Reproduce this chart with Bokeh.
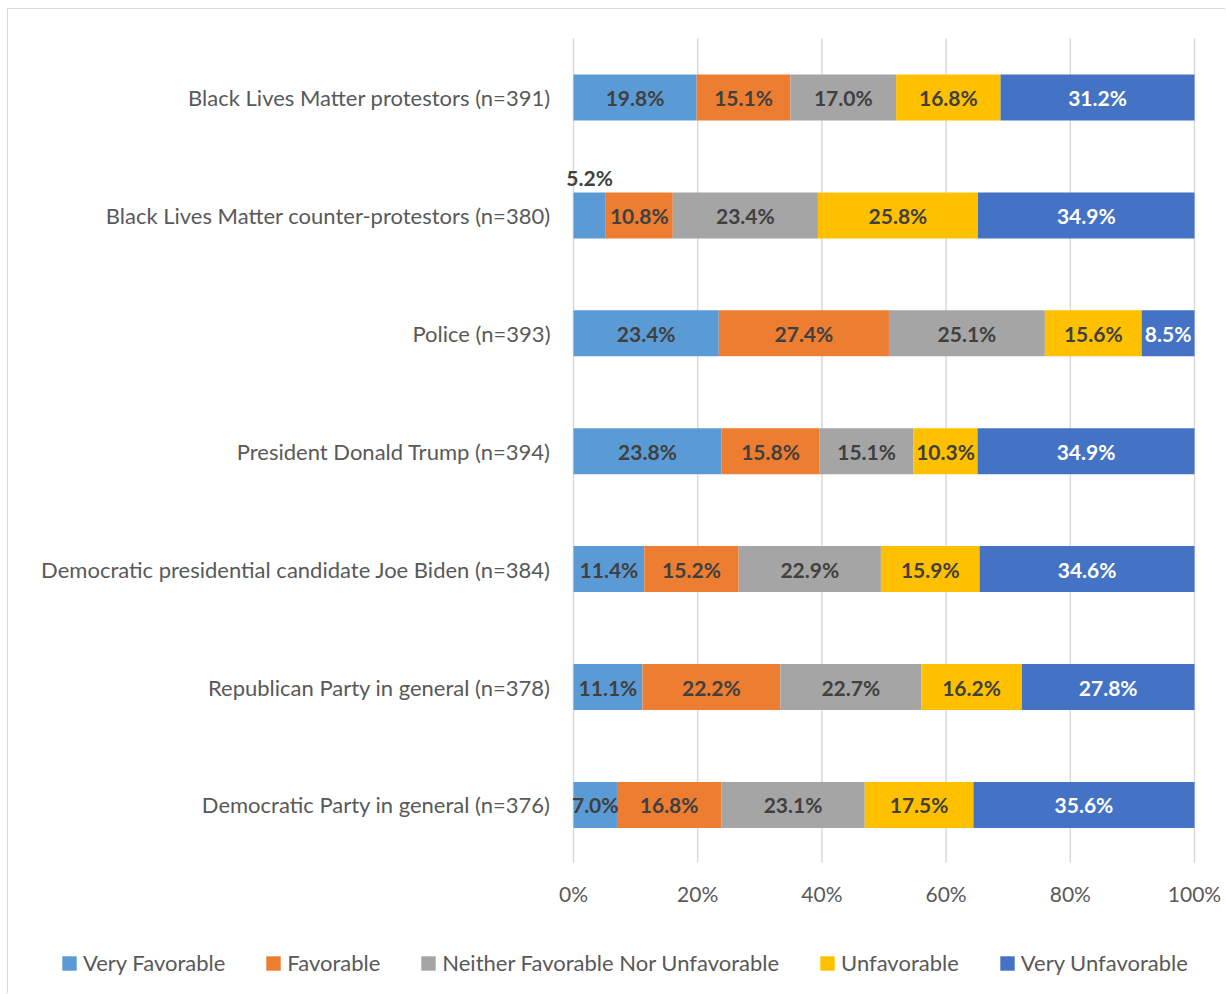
from bokeh.plotting import figure
from bokeh.models import ColumnDataSource, Legend, LegendItem, Range1d
from bokeh.core.properties import value
from bokeh.embed import file_html
from bokeh.resources import INLINE

categories = [
    "Black Lives Matter protestors (n=391)",
    "Black Lives Matter counter-protestors (n=380)",
    "Police (n=393)",
    "President Donald Trump (n=394)",
    "Democratic presidential candidate Joe Biden (n=384)",
    "Republican Party in general (n=378)",
    "Democratic Party in general (n=376)",
]
series = ["Very Favorable", "Favorable", "Neither Favorable Nor Unfavorable", "Unfavorable", "Very Unfavorable"]
very_favorable = [19.8, 5.2, 23.4, 23.8, 11.4, 11.1, 7.0]
favorable = [15.1, 10.8, 27.4, 15.8, 15.2, 22.2, 16.8]
neither = [17.0, 23.4, 25.1, 15.1, 22.9, 22.7, 23.1]
unfavorable = [16.8, 25.8, 15.6, 10.3, 15.9, 16.2, 17.5]
very_unfavorable = [31.2, 34.9, 8.5, 34.9, 34.6, 27.8, 35.6]
tick_values = [0, 20, 40, 60, 80, 100]
tick_labels = ["0%", "20%", "40%", "60%", "80%", "100%"]

colors = ["#5B9BD5", "#ED7D31", "#A5A5A5", "#FFC000", "#4472C4"]
label_colors = ["#404040", "#404040", "#404040", "#404040", "#FFFFFF"]
FONT = "Lato"
TXT = "#595959"
GRID = "#D9D9D9"

vals = [very_favorable, favorable, neither, unfavorable, very_unfavorable]
n = len(categories)
totals = [sum(v[i] for v in vals) for i in range(n)]
norm = [[v[i] / totals[i] * 100 for i in range(n)] for v in vals]
ypos = [-i for i in range(n)]  # first category at the top

keys = ["s%d" % k for k in range(5)]
data = {"y": ypos, "cat": categories}
for k, col in zip(keys, norm):
    data[k] = col
src = ColumnDataSource(data)

# layout geometry (pixels, relative to the figure's top-left)
W, H = 1218, 985
PPU_X = 6.21      # px per percent
X_ZERO = 565      # px of the 0% line
ROW = 117.9       # px per category row
Y_FIRST = 88      # px of the first row centre
TICK_Y = 884      # px of the x tick labels
x_range = Range1d(-X_ZERO / PPU_X, (W - X_ZERO) / PPU_X)
y_range = Range1d(-(H - Y_FIRST) / ROW, Y_FIRST / ROW)

p = figure(width=W, height=H, x_range=x_range, y_range=y_range,
           x_axis_location=None, y_axis_location=None,
           output_backend="svg", toolbar_location=None,
           min_border=0, min_border_left=0, min_border_right=0, min_border_top=0, min_border_bottom=0)
p.styles = {"margin-left": "7px", "margin-top": "8px",
            "border-left": "1px solid #D9D9D9", "border-top": "1px solid #D9D9D9"}
p.outline_line_color = None
p.background_fill_color = "white"
p.grid.visible = False

band_top, band_bottom = 0.5, -(n - 1) - 0.49

# vertical gridlines
p.segment(x0=tick_values, y0=[band_top] * len(tick_values), x1=tick_values,
          y1=[band_bottom] * len(tick_values), line_color=GRID, line_width=1.5)

rends = p.hbar_stack(keys, y="y", height=0.39, color=colors, line_color=None, source=src)

# x tick labels
p.text(x=tick_values, y=[(Y_FIRST - TICK_Y) / ROW] * len(tick_values), text=tick_labels,
       text_color=TXT, text_font=value(FONT), text_font_size=value("21px"),
       text_align="center", text_baseline="middle")

# category labels
p.text(x=[-23 / PPU_X] * n, y=ypos, text=categories, text_color=TXT,
       text_font=value(FONT), text_font_size=value("22px"),
       text_align="right", text_baseline="middle")

# data labels
lx, ly, lt, lc, lyo = [], [], [], [], []
for s in range(5):
    for i in range(n):
        left = sum(norm[j][i] for j in range(s))
        lx.append(left + norm[s][i] / 2)
        ly.append(ypos[i])
        lt.append("%.1f%%" % vals[s][i])
        lc.append(label_colors[s])
        lyo.append(-38 if vals[s][i] < 6 else 0)
lsrc = ColumnDataSource(dict(x=lx, y=ly, t=lt, c=lc, yo=lyo))
p.text(x="x", y="y", text="t", text_color="c", y_offset="yo", source=lsrc,
       text_font=value(FONT), text_font_style="bold", text_font_size=value("21px"),
       text_align="center", text_baseline="middle")

legend = Legend(items=[LegendItem(label=s, renderers=[r]) for s, r in zip(series, rends)],
                orientation="horizontal", location=(52, 18),
                glyph_width=18, glyph_height=18, label_standoff=5, spacing=39,
                label_text_font=FONT, label_text_font_size="22px", label_text_color=TXT,
                border_line_color=None, background_fill_alpha=0, padding=0, margin=0)
p.add_layout(legend, "center")

open("out.html", "w").write(file_html(p, INLINE))
